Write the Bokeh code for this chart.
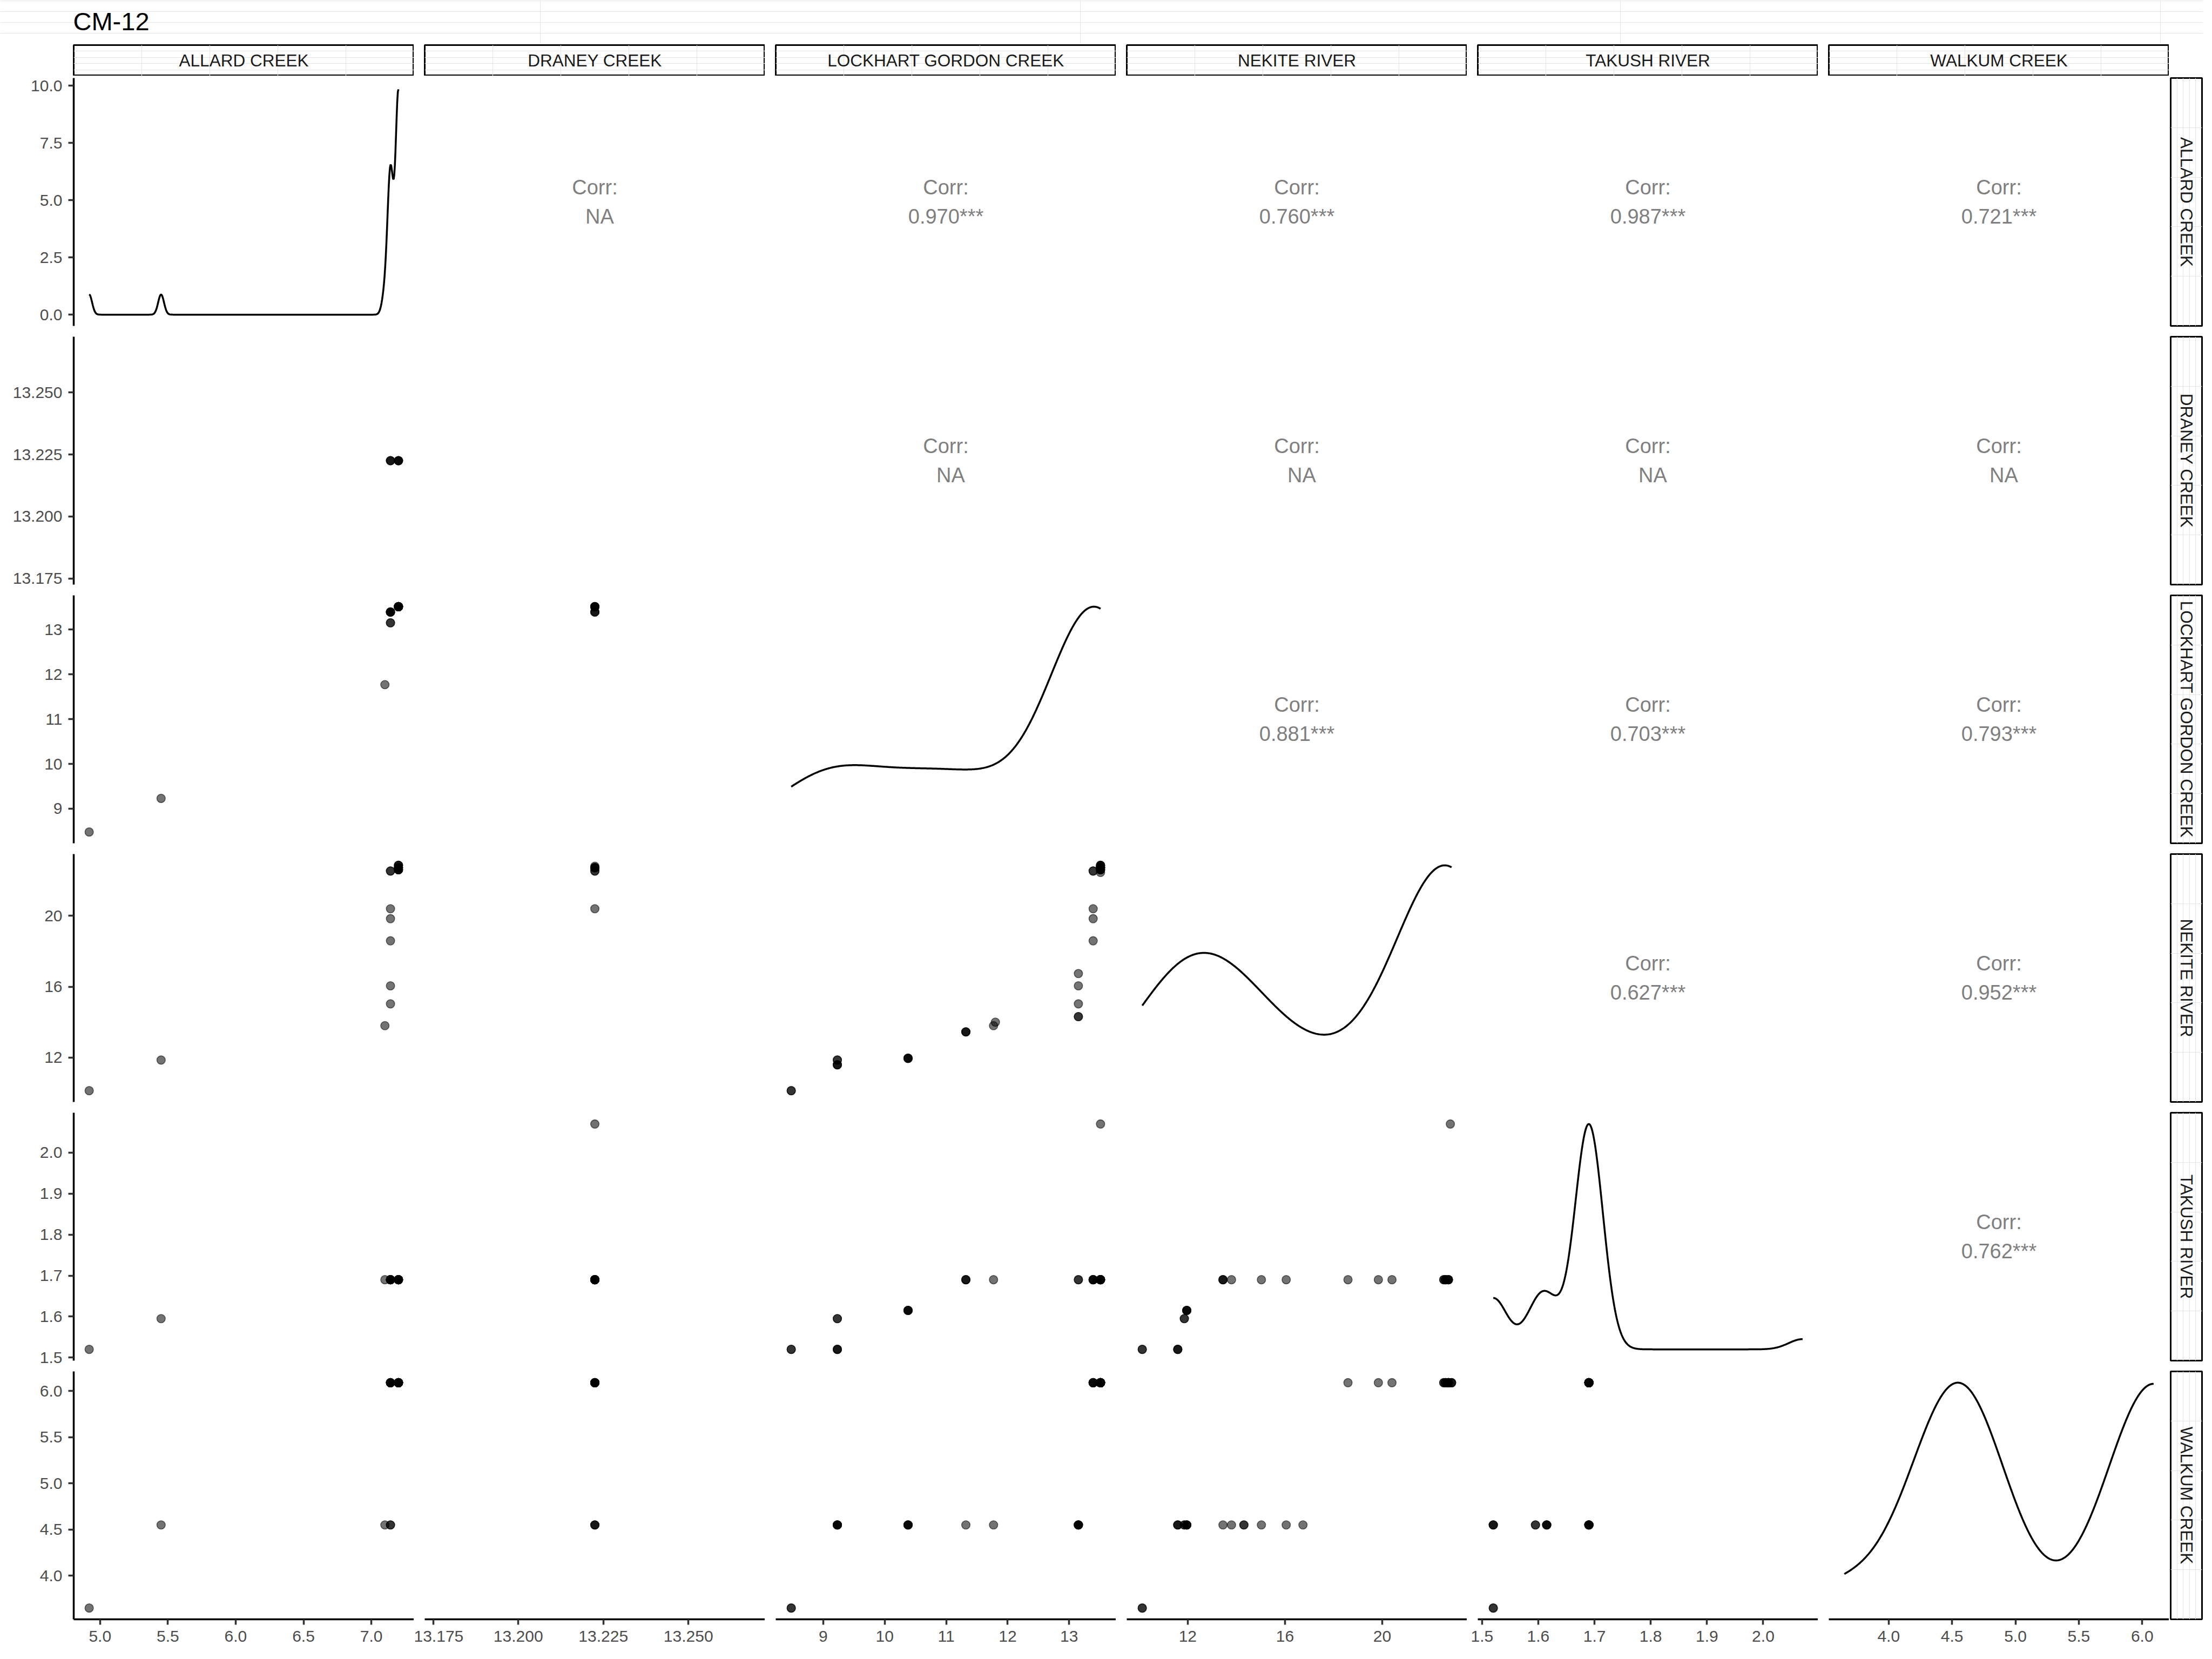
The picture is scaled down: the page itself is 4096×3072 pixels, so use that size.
import numpy as np
from bokeh.plotting import figure
from bokeh.layouts import column, row
from bokeh.models import Range1d, FixedTicker, PrintfTickFormatter, Spacer
from bokeh.embed import file_html
from bokeh.resources import INLINE
from bokeh.core.properties import value

NA = float("nan")

# ---------------- data ----------------
title_text = "CM-12"
variables = ["ALLARD CREEK", "DRANEY CREEK", "LOCKHART GORDON CREEK",
             "NEKITE RIVER", "TAKUSH RIVER", "WALKUM CREEK"]

# each entry is a distinct observation pattern, repeated row_repeats times
row_repeats = [1, 1, 3, 1, 1, 4, 1, 2, 1, 1, 2, 1, 1, 1, 1, 1, 1, 2, 4, 4, 3, 3, 1, 7, 1, 3]
allard   = [4.92, NA, NA, 5.45, NA, NA, NA, NA, 7.10, NA, NA, 7.141, 7.141, NA, 7.141, 7.141,
            7.141, 7.141, 7.20, 7.20, 7.20, NA, NA, NA, NA, NA]
draney   = [NA, NA, NA, NA, NA, NA, NA, NA, NA, NA, NA, NA, NA, NA, NA, NA,
            13.2225, 13.2225, 13.2225, NA, NA, NA, NA, NA, 13.2225, 13.2225]
lockhart = [8.48, 8.48, 9.23, 9.23, 9.23, 10.38, 11.32, 11.32, 11.77, 11.80, 13.15, 13.15,
            13.15, 13.15, 13.39, 13.39, 13.39, 13.39, 13.51, 13.51, 13.51, 13.51, 13.51, NA,
            13.51, NA]
nekite   = [10.13, 10.13, 11.59, 11.86, 11.86, 11.96, 13.45, 13.45, 13.80, 14.00, 14.31, 15.03,
            16.05, 16.74, 18.59, 19.84, 20.40, 22.53, 22.72, 22.60, 22.85, 22.72, 22.45, 22.72,
            22.80, NA]
takush   = [1.52, 1.52, 1.52, 1.595, 1.595, 1.615, 1.69, 1.69, 1.69, NA, NA, 1.69, 1.69, NA,
            1.69, 1.69, 1.69, 1.69, 1.69, 1.69, NA, NA, NA, NA, 2.07, 1.69]
walkum   = [3.65, 3.65, 4.55, 4.55, 4.55, 4.55, 4.55, NA, 4.55, NA, 4.55, 4.55, 4.55, 4.55,
            6.09, 6.09, 6.09, 6.09, 6.09, 6.09, 6.09, 6.09, NA, NA, NA, 4.55]

# correlation labels of the upper triangle (row, col) -> text
corr_labels = {
    (0, 1): "NA", (0, 2): "0.970***", (0, 3): "0.760***", (0, 4): "0.987***", (0, 5): "0.721***",
    (1, 2): "NA", (1, 3): "NA", (1, 4): "NA", (1, 5): "NA",
    (2, 3): "0.881***", (2, 4): "0.703***", (2, 5): "0.793***",
    (3, 4): "0.627***", (3, 5): "0.952***",
    (4, 5): "0.762***",
}

# axis ticks per variable
ticks = [[5.0, 5.5, 6.0, 6.5, 7.0],
         [13.175, 13.2, 13.225, 13.25],
         [9, 10, 11, 12, 13],
         [12, 16, 20],
         [1.5, 1.6, 1.7, 1.8, 1.9, 2.0],
         [4.0, 4.5, 5.0, 5.5, 6.0]]
tick_formats = ["%.1f", "%.3f", "%d", "%d", "%.1f", "%.1f"]
density_ticks = [0.0, 2.5, 5.0, 7.5, 10.0]

# ---------------- derived ----------------
reps = np.array(row_repeats)
data = [np.repeat(np.array(v, dtype=float), reps) for v in
        (allard, draney, lockhart, nekite, takush, walkum)]


def expanded_range(v):
    v = v[~np.isnan(v)]
    lo, hi = v.min(), v.max()
    if hi - lo == 0:
        return (lo - 0.05, hi + 0.05)
    d = hi - lo
    return (lo - 0.05 * d, hi + 0.05 * d)


def bw_nrd0(x):
    hi = np.std(x, ddof=1)
    q75, q25 = np.percentile(x, [75, 25])
    lo = min(hi, (q75 - q25) / 1.34)
    if not lo:
        lo = hi or abs(x[0]) or 1.0
    return 0.9 * lo * len(x) ** (-0.2)


def kde(v, n=512):
    x = v[~np.isnan(v)]
    if x.max() - x.min() == 0:
        return None
    bw = bw_nrd0(x)
    gx = np.linspace(x.min(), x.max(), n)
    gy = np.exp(-0.5 * ((gx[:, None] - x[None, :]) / bw) ** 2).sum(1) / (len(x) * bw * np.sqrt(2 * np.pi))
    return gx, gy


ranges = [expanded_range(v) for v in data]

# ---------------- layout constants (output px) ----------------
FONT = "Liberation Sans"
FW, FH = 630, 459
GAP = 20
ML = 136
MB = 60
STRIP = 57
LW = 3.5
TICK_FS = "30px"
N = 6


def borders(r):
    top = 4 if r == 0 else 10
    bottom = MB if r == N - 1 else 10
    return top, bottom


def style_axis(ax, tks, fmt):
    ax.ticker = FixedTicker(ticks=tks)
    ax.formatter = PrintfTickFormatter(format=fmt)
    ax.axis_line_color = "black"
    ax.axis_line_width = LW
    ax.major_tick_line_color = "#333333"
    ax.major_tick_line_width = LW
    ax.major_tick_out = 10
    ax.major_tick_in = 0
    ax.minor_tick_line_color = None
    ax.major_label_text_font = FONT
    ax.major_label_text_font_size = TICK_FS
    ax.major_label_text_color = "#4D4D4D"
    ax.major_label_standoff = 11


def panel(r, c):
    xr = ranges[c]
    if r == c:
        dens = kde(data[c])
        if dens is not None:
            ymax = dens[1].max()
            yr = (-0.05 * ymax, 1.05 * ymax)
        else:
            yr = (0, 1)
    else:
        dens = None
        yr = ranges[r]
    has_x = (r == N - 1)
    has_y = (c == 0)
    top, bottom = borders(r)
    p = figure(frame_width=FW, frame_height=FH,
               x_range=Range1d(*xr), y_range=Range1d(*yr),
               x_axis_location="below" if has_x else None,
               y_axis_location="left" if has_y else None,
               toolbar_location=None, tools="", output_backend="svg",
               min_border_left=ML if c == 0 else GAP, min_border_right=0,
               min_border_top=top, min_border_bottom=bottom)
    p.outline_line_color = None
    p.background_fill_color = "white"
    p.border_fill_color = "white"
    for g in p.grid:
        g.visible = False
    if has_x:
        style_axis(p.xaxis[0], ticks[c], tick_formats[c])
    if has_y:
        if r == 0:
            style_axis(p.yaxis[0], density_ticks, "%.1f")
        else:
            style_axis(p.yaxis[0], ticks[r], tick_formats[r])

    if r == c:
        if dens is not None:
            p.line(dens[0], dens[1], line_color="black", line_width=LW)
    elif r > c:
        x, y = data[c], data[r]
        m = ~np.isnan(x) & ~np.isnan(y)
        p.scatter(x[m], y[m], size=15.5, marker="circle", fill_color="black",
                  line_color="black", fill_alpha=0.55, line_alpha=0.55, line_width=1.6)
    else:
        cx = 0.5 * (xr[0] + xr[1])
        cy = 0.5 * (yr[0] + yr[1])
        lab = corr_labels[(r, c)]
        p.text(x=[cx], y=[cy], text=["Corr:"], text_font=value(FONT), text_font_size="38px",
               text_color="#7F7F7F", text_align="center", text_baseline="middle", y_offset=-27)
        p.text(x=[cx], y=[cy], text=[lab], text_font=value(FONT), text_font_size="38px",
               text_color="#7F7F7F", text_align="center", text_baseline="middle", y_offset=27,
               x_offset=9 if lab == "NA" else 0)
    return p


def top_strip(c):
    s = figure(frame_width=FW, frame_height=STRIP, x_range=Range1d(0, 1), y_range=Range1d(0, 1),
               x_axis_location=None, y_axis_location=None, toolbar_location=None, tools="",
               output_backend="svg", min_border_left=ML if c == 0 else GAP, min_border_right=0,
               min_border_top=2, min_border_bottom=0)
    s.outline_line_color = "black"
    s.outline_line_width = 3
    s.background_fill_color = "white"
    s.border_fill_color = "white"
    s.text(x=[0.5], y=[0.5], text=[variables[c]], text_font=value(FONT), text_font_size="31.5px",
           text_color="#1A1A1A", text_align="center", text_baseline="middle")
    return s


def right_strip(r):
    top, bottom = borders(r)
    s = figure(frame_width=STRIP + 1, frame_height=FH, x_range=Range1d(0, 1), y_range=Range1d(0, 1),
               x_axis_location=None, y_axis_location=None, toolbar_location=None, tools="",
               output_backend="svg", min_border_left=3, min_border_right=2,
               min_border_top=top, min_border_bottom=bottom)
    s.outline_line_color = "black"
    s.outline_line_width = 3
    s.background_fill_color = "white"
    s.border_fill_color = "white"
    s.text(x=[0.5], y=[0.5], text=[variables[r]], text_font=value(FONT), text_font_size="31.5px",
           text_color="#1A1A1A", text_align="center", text_baseline="middle", angle=-np.pi / 2)
    return s


TOTAL_W = ML + FW + (N - 1) * (GAP + FW) + 3 + STRIP + 1 + 2
TITLE_H = 81
tp = figure(width=TOTAL_W, height=TITLE_H, x_range=Range1d(0, TOTAL_W), y_range=Range1d(0, TITLE_H),
            x_axis_location=None, y_axis_location=None, toolbar_location=None, tools="",
            output_backend="svg", min_border=0)
tp.outline_line_color = None
tp.border_fill_color = "white"
tp.text(x=[ML - 1], y=[42], text=[title_text], text_font=value(FONT), text_font_size="47px",
        text_color="black", text_align="left", text_baseline="alphabetic")

rows = [row([top_strip(c) for c in range(N)] + [Spacer(width=3 + STRIP + 1 + 2, height=2 + STRIP)])]
for r in range(N):
    rows.append(row([panel(r, c) for c in range(N)] + [right_strip(r)]))

layout = column([tp] + rows)
open("out.html", "w").write(file_html(layout, INLINE))
